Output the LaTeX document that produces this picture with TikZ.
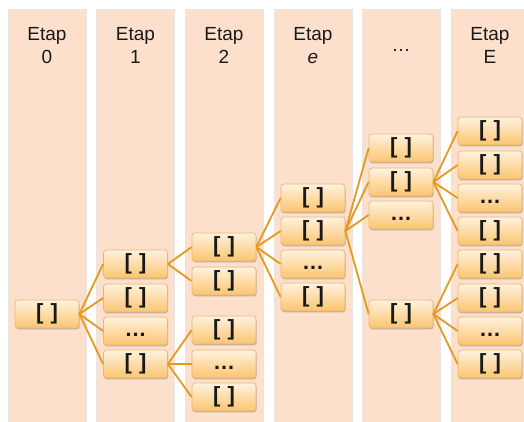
\documentclass[tikz,border=0pt]{standalone}
\usepackage{fontspec}
\setmainfont{Liberation Sans}
\usetikzlibrary{shadows}
\definecolor{colfill}{RGB}{253,224,204}
\definecolor{colline}{RGB}{232,228,226}
\definecolor{boxtop}{RGB}{255,242,222}
\definecolor{boxbot}{RGB}{251,197,112}
\definecolor{boxborder}{RGB}{232,182,115}
\definecolor{edgecol}{RGB}{227,154,30}
\definecolor{txt}{RGB}{25,25,25}
\tikzset{
  colbox/.style={fill=colfill, draw=colline, line width=0.8pt},
  hdr/.style={anchor=base, font=\fontsize{19}{19}\selectfont, text=txt, inner sep=0pt},
  itembox/.style={draw=boxborder, line width=0.7pt, rounded corners=3pt,
    top color=boxtop, bottom color=boxbot, minimum width=64pt, minimum height=28pt,
    inner sep=0pt, text=txt, font=\bfseries\fontsize{22}{22}\selectfont,
    text height=16pt, text depth=4.6pt,
    drop shadow={shadow xshift=0.6pt, shadow yshift=-1.4pt, opacity=0.4, fill=black!60}},
  edge/.style={draw=edgecol, line width=1.8pt}
}
\newcommand{\br}{[\,\,]}
\newcommand{\dts}{\ldots}
\begin{document}
\begin{tikzpicture}[x=1pt,y=-1pt]
\useasboundingbox (0,0) rectangle (524,421);
\begin{scope}
\clip (0,0) rectangle (524,421);
\foreach \cx [count=\i] in {47,135.5,224,313,401,490} {
  \path[colbox] (\cx-39,9) rectangle (\cx+39,425);
}
\end{scope}
% headers
\node[hdr] (h0a) at (47,40) {Etap};
\node[hdr] (h0b) at (47,63) {0};
\node[hdr] (h1a) at (135.5,40) {Etap};
\node[hdr] (h1b) at (135.5,63) {1};
\node[hdr] (h2a) at (224,40) {Etap};
\node[hdr] (h2b) at (224,63) {2};
\node[hdr] (h3a) at (313,40) {Etap};
\node[hdr] (h3b) at (313,63) {\itshape e};
\node[hdr] (h4) at (401,51) {\ldots};
\node[hdr] (h5a) at (490,40) {Etap};
\node[hdr] (h5b) at (490,63) {E};
% boxes
\node[itembox] (a) at (47,314) {\br};
\node[itembox] (b1) at (135.5,264) {\br};
\node[itembox] (b2) at (135.5,298) {\br};
\node[itembox] (b3) at (135.5,331) {\dts};
\node[itembox] (b4) at (135.5,364) {\br};
\node[itembox] (c1) at (224,247) {\br};
\node[itembox] (c2) at (224,281) {\br};
\node[itembox] (c3) at (224,330) {\br};
\node[itembox] (c4) at (224,364) {\dts};
\node[itembox] (c5) at (224,397) {\br};
\node[itembox] (d1) at (313,198) {\br};
\node[itembox] (d2) at (313,231) {\br};
\node[itembox] (d3) at (313,264) {\dts};
\node[itembox] (d4) at (313,297) {\br};
\node[itembox] (e1) at (401,148) {\br};
\node[itembox] (e2) at (401,182) {\br};
\node[itembox] (e3) at (401,215) {\dts};
\node[itembox] (e4) at (401,314) {\br};
\node[itembox] (f1) at (490,131) {\br};
\node[itembox] (f2) at (490,165) {\br};
\node[itembox] (f3) at (490,198) {\dts};
\node[itembox] (f4) at (490,231) {\br};
\node[itembox] (f5) at (490,264) {\br};
\node[itembox] (f6) at (490,298) {\br};
\node[itembox] (f7) at (490,331) {\dts};
\node[itembox] (f8) at (490,364) {\br};
% edges
\foreach \t in {b1,b2,b3,b4} \draw[edge] (a.east) -- (\t.west);
\foreach \t in {c1,c2} \draw[edge] (b1.east) -- (\t.west);
\foreach \t in {c3,c4,c5} \draw[edge] (b4.east) -- (\t.west);
\foreach \t in {d1,d2,d3,d4} \draw[edge] (c1.east) -- (\t.west);
\foreach \t in {e1,e2,e3,e4} \draw[edge] (d2.east) -- (\t.west);
\foreach \t in {f1,f2,f3,f4} \draw[edge] (e2.east) -- (\t.west);
\foreach \t in {f5,f6,f7,f8} \draw[edge] (e4.east) -- (\t.west);
\end{tikzpicture}
\end{document}
